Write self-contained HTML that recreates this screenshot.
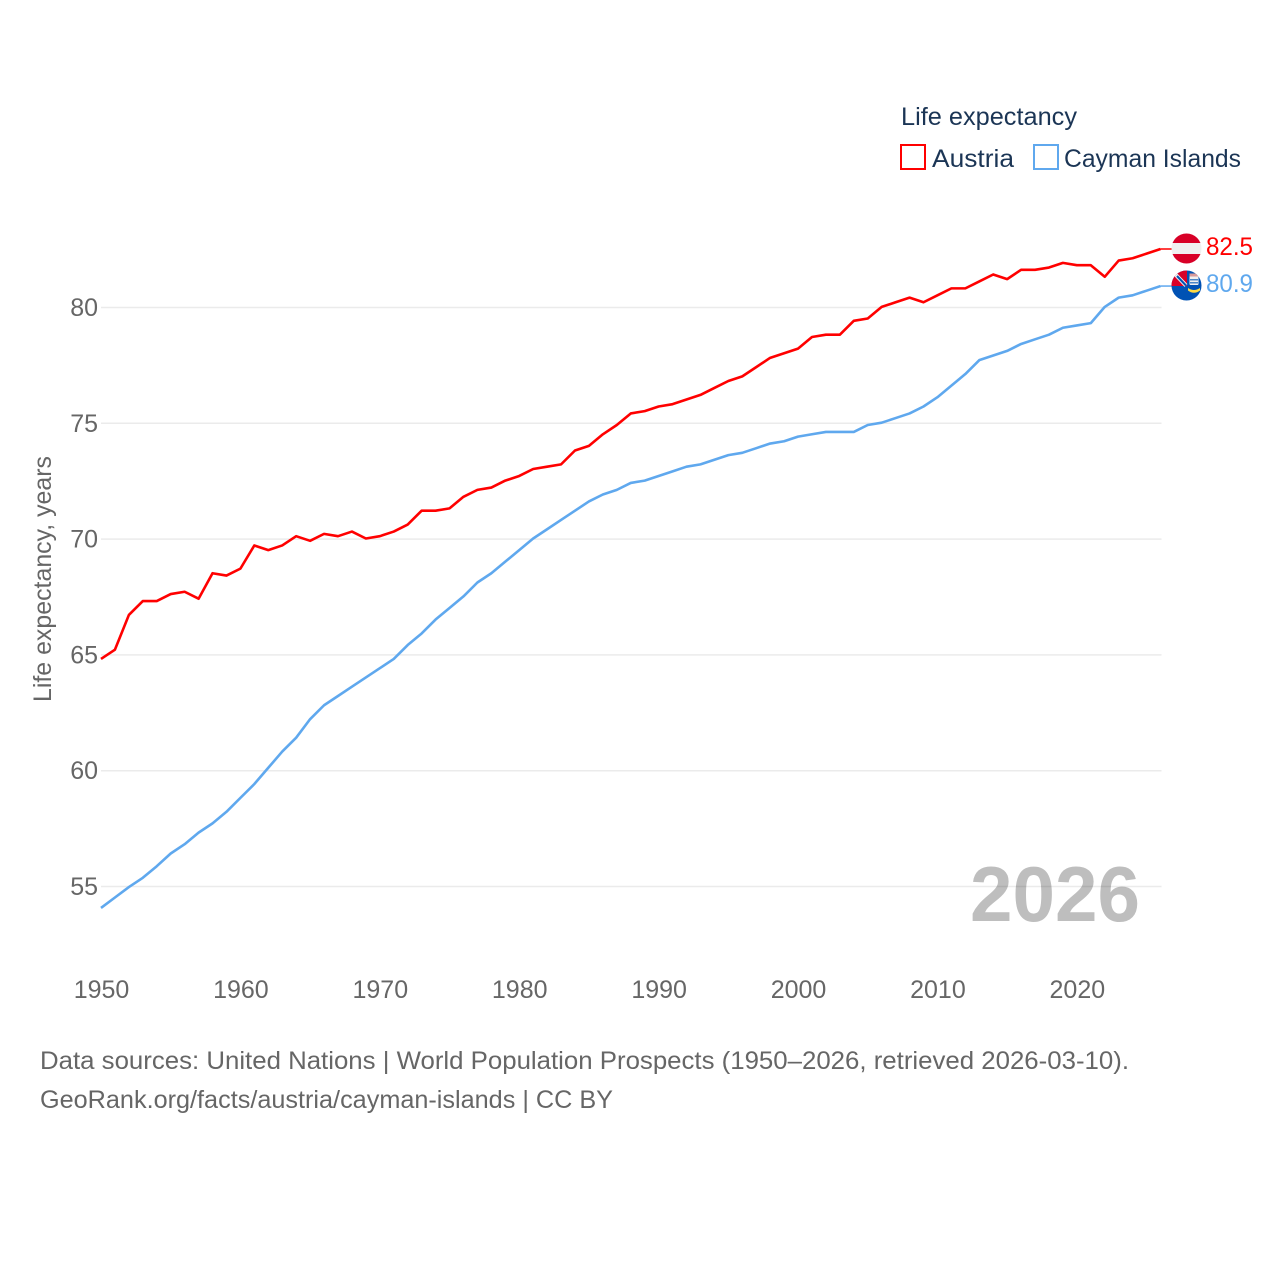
<!DOCTYPE html>
<html lang="en">
<head>
<meta charset="utf-8">
<title>Life expectancy: Austria and Cayman Islands</title>
<style>
html,body{margin:0;padding:0;background:#fff;width:1280px;height:1280px;overflow:hidden}
svg{display:block}
text{font-family:"Liberation Sans",sans-serif;font-size:25px;fill:#666}
</style>
</head>
<body>
<svg id="chart" xmlns="http://www.w3.org/2000/svg" width="1280" height="1280" viewBox="0 0 1280 1280">
  <defs>
    <clipPath id="clip-at"><circle cx="1186.5" cy="248.5" r="15"/></clipPath>
    <clipPath id="clip-ky"><circle cx="1186.5" cy="285.5" r="15"/></clipPath>
  </defs>
  <text x="970" y="921" textLength="170" lengthAdjust="spacingAndGlyphs" style="font-size:78px;font-weight:bold;fill:#bebebe">2026</text>
  <g id="grid"></g>
  <g id="y-ticks"></g>
  <g id="x-ticks"></g>
  <text transform="translate(51 702) rotate(-90)" textLength="246" lengthAdjust="spacingAndGlyphs">Life expectancy, years</text>
  <g id="series"></g>

  <g>
    <text x="901" y="125" textLength="176" lengthAdjust="spacingAndGlyphs" style="fill:#1b3555">Life expectancy</text>
    <rect x="901" y="145" width="24" height="24" fill="#fff" stroke="#ff0000" stroke-width="2"/>
    <text x="932" y="167" textLength="82" lengthAdjust="spacingAndGlyphs" style="fill:#1b3555">Austria</text>
    <rect x="1034" y="145" width="24" height="24" fill="#fff" stroke="#5fa8ee" stroke-width="2"/>
    <text x="1064" y="167" textLength="177" lengthAdjust="spacingAndGlyphs" style="fill:#1b3555">Cayman Islands</text>
  </g>

  <g clip-path="url(#clip-at)">
    <rect x="1170" y="233" width="34" height="10" fill="#d80027"/>
    <rect x="1170" y="243" width="34" height="11" fill="#f0f0f0"/>
    <rect x="1170" y="254" width="34" height="11" fill="#d80027"/>
  </g>
  <g clip-path="url(#clip-ky)">
    <rect x="1170" y="269" width="34" height="34" fill="#0052b4"/>
    <rect x="1171" y="270" width="16" height="16" fill="#d80027"/>
    <path d="M1175 274 L1186 285.5" stroke="#f0f0f0" stroke-width="4"/>
    <path d="M1177 276 L1186 285.5" stroke="#0052b4" stroke-width="2"/>
    <path d="M1171 285.5 h15.5 v-15" fill="none" stroke="#f0f0f0" stroke-width="0"/>
    <rect x="1189.5" y="275" width="9" height="10" rx="1" fill="#f0f0f0"/>
    <rect x="1189.5" y="273.5" width="9" height="3" fill="#d89a9a"/>
    <rect x="1190" y="279" width="8" height="1.5" fill="#4a86c8"/>
    <rect x="1190" y="282" width="8" height="1.5" fill="#4a86c8"/>
    <path d="M1188 288 q6 4 12 0 l0 2.5 q-6 4.5 -12 0 z" fill="#ffda44"/>
  </g>
  <text x="1206" y="255" textLength="47" lengthAdjust="spacingAndGlyphs" style="fill:#ff0000">82.5</text>
  <text x="1206" y="292" textLength="47" lengthAdjust="spacingAndGlyphs" style="fill:#5fa8ee">80.9</text>

  <text x="40" y="1069" textLength="1089" lengthAdjust="spacingAndGlyphs">Data sources: United Nations | World Population Prospects (1950–2026, retrieved 2026-03-10).</text>
  <text x="40" y="1108" textLength="573" lengthAdjust="spacingAndGlyphs">GeoRank.org/facts/austria/cayman-islands | CC BY</text>
</svg>
<script>
const years = [1950,1951,1952,1953,1954,1955,1956,1957,1958,1959,1960,1961,1962,1963,1964,1965,1966,1967,1968,1969,1970,1971,1972,1973,1974,1975,1976,1977,1978,1979,1980,1981,1982,1983,1984,1985,1986,1987,1988,1989,1990,1991,1992,1993,1994,1995,1996,1997,1998,1999,2000,2001,2002,2003,2004,2005,2006,2007,2008,2009,2010,2011,2012,2013,2014,2015,2016,2017,2018,2019,2020,2021,2022,2023,2024,2025,2026];
const austria = [64.8,65.2,66.7,67.3,67.3,67.6,67.7,67.4,68.5,68.4,68.7,69.7,69.5,69.7,70.1,69.9,70.2,70.1,70.3,70.0,70.1,70.3,70.6,71.2,71.2,71.3,71.8,72.1,72.2,72.5,72.7,73.0,73.1,73.2,73.8,74.0,74.5,74.9,75.4,75.5,75.7,75.8,76.0,76.2,76.5,76.8,77.0,77.4,77.8,78.0,78.2,78.7,78.8,78.8,79.4,79.5,80.0,80.2,80.4,80.2,80.5,80.8,80.8,81.1,81.4,81.2,81.6,81.6,81.7,81.9,81.8,81.8,81.3,82.0,82.1,82.3,82.5];
const cayman = [54.05,54.5,54.95,55.35,55.85,56.4,56.8,57.3,57.7,58.2,58.8,59.4,60.1,60.8,61.4,62.2,62.8,63.2,63.6,64.0,64.4,64.8,65.4,65.9,66.5,67.0,67.5,68.1,68.5,69.0,69.5,70.0,70.4,70.8,71.2,71.6,71.9,72.1,72.4,72.5,72.7,72.9,73.1,73.2,73.4,73.6,73.7,73.9,74.1,74.2,74.4,74.5,74.6,74.6,74.6,74.9,75.0,75.2,75.4,75.7,76.1,76.6,77.1,77.7,77.9,78.1,78.4,78.6,78.8,79.1,79.2,79.3,80.0,80.4,80.5,80.7,80.9];
const yTickValues = [55,60,65,70,75,80];
const xTickValues = [1950,1960,1970,1980,1990,2000,2010,2020];

const NS = 'http://www.w3.org/2000/svg';
const xScale = function (year) { return 101 + (year - 1950) * (1160.5 - 101) / 76; };
const yScale = function (value) { return 886.5 - (value - 55) * (886.5 - 307.5) / 25; };

const grid = document.getElementById('grid');
const yG = document.getElementById('y-ticks');
const xG = document.getElementById('x-ticks');
const seriesG = document.getElementById('series');

yTickValues.forEach(function (v) {
  const line = document.createElementNS(NS, 'line');
  
  
  line.setAttribute('x1', xScale(1950));
  line.setAttribute('x2', 1161.5);
  line.setAttribute('y1', yScale(v));
  line.setAttribute('y2', yScale(v));
  line.setAttribute('stroke', '#000');
  line.setAttribute('stroke-opacity', '0.08');
  line.setAttribute('stroke-width', '1.5');
  grid.appendChild(line);

  const t = document.createElementNS(NS, 'text');
  
  
  t.setAttribute('x', 98);
  t.setAttribute('y', yScale(v) + 8.5);
  t.setAttribute('text-anchor', 'end');
  t.textContent = v;
  yG.appendChild(t);
});

xTickValues.forEach(function (v) {
  const t = document.createElementNS(NS, 'text');
  
  
  t.setAttribute('x', xScale(v) + 0.5);
  t.setAttribute('y', 998);
  t.setAttribute('text-anchor', 'middle');
  t.textContent = v;
  xG.appendChild(t);
});

function drawSeries(values, color, name) {
  const d = values.map(function (v, i) {
    return (i ? 'L' : 'M') + xScale(years[i]).toFixed(2) + ' ' + (yScale(v) - 0.6).toFixed(2);
  }).join(' ');
  const path = document.createElementNS(NS, 'path');
  
  
  path.setAttribute('d', d);
  path.setAttribute('fill', 'none');
  path.setAttribute('stroke', color);
  path.setAttribute('stroke-width', '2.6');
  path.setAttribute('stroke-linejoin', 'round');
  seriesG.appendChild(path);

  const lastY = yScale(values[values.length - 1]) - 0.6;
  const conn = document.createElementNS(NS, 'line');
  
  
  conn.setAttribute('x1', xScale(years[years.length - 1]));
  conn.setAttribute('x2', 1172);
  conn.setAttribute('y1', lastY);
  conn.setAttribute('y2', lastY);
  conn.setAttribute('stroke', color);
  conn.setAttribute('stroke-width', '1.5');
  seriesG.appendChild(conn);
}
drawSeries(austria, '#ff0000', 'line-austria');
drawSeries(cayman, '#5fa8ee', 'line-cayman-islands');
</script>
</body>
</html>
